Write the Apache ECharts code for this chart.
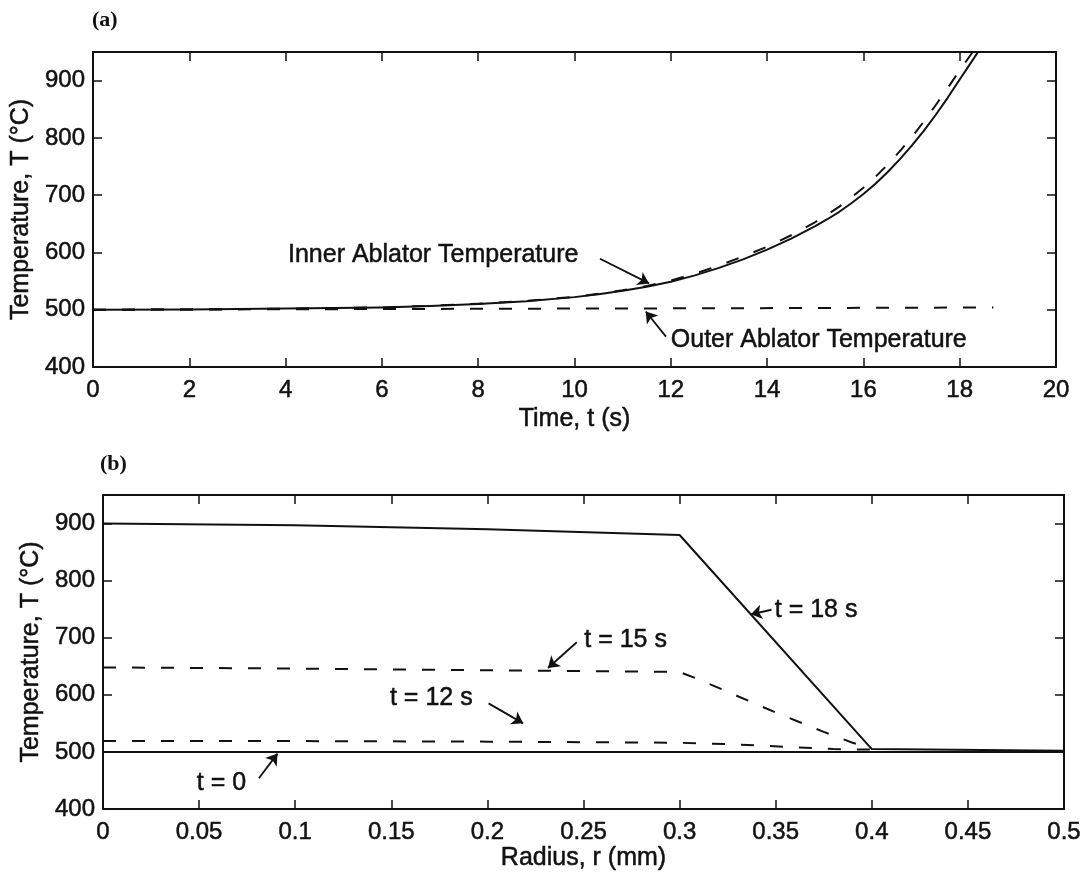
<!DOCTYPE html>
<html>
<head>
<meta charset="utf-8">
<title>Ablator temperature</title>
<script src="https://cdn.jsdelivr.net/npm/echarts@6.0.0/dist/echarts.min.js"></script>
<style>
  html, body { margin: 0; padding: 0; background: #fff; }
  #chart { width: 1090px; height: 878px; }
</style>
</head>
<body>
<div id="chart"></div>
<script>
// (a) temperature vs time
var timeInner = [0, 2, 4, 6, 7, 8, 9, 10, 10.5, 11, 11.5, 12, 12.5, 13, 13.5, 14, 14.5, 15, 15.25, 15.5, 15.75, 16, 16.25, 16.5, 16.75, 17, 17.25, 17.5, 17.75, 18, 18.2, 18.38];
var tempInner = [500, 500.5, 502, 504, 506.5, 510, 515, 522, 527, 533, 540, 549, 560, 573, 588, 605, 624, 646, 658, 671, 686, 702, 720, 740, 762, 786, 812, 840, 870, 902, 927, 950];
var timeInnerModel = [0, 2, 4, 6, 7, 8, 9, 10, 10.5, 11, 11.5, 12, 12.5, 13, 13.5, 14, 14.5, 15, 15.25, 15.5, 15.75, 16, 16.25, 16.5, 16.75, 17, 17.25, 17.5, 17.75, 18, 18.27];
var tempInnerModel = [500, 500.5, 502, 504, 507, 510.5, 515.5, 522.5, 528, 534, 541.5, 551, 563, 577, 593, 610, 630, 653, 666, 680, 696, 713, 732, 753, 776, 801, 828, 857, 887, 918, 950];
var timeOuter = [0, 5, 10, 15, 18.7];
var tempOuter = [500, 501, 502, 503, 504];

// (b) temperature profiles through the ablator
var radius18 = [0, 0.1, 0.2, 0.3, 0.4, 0.5];
var temp18 = [900, 897, 890, 880, 505, 502];
var radius15 = [0, 0.1, 0.2, 0.3, 0.31, 0.33, 0.35, 0.375, 0.39, 0.4];
var temp15 = [648, 646, 643, 640, 627, 598, 569, 535, 516, 506];
var radius12 = [0, 0.1, 0.2, 0.3, 0.33, 0.36, 0.38, 0.4];
var temp12 = [519, 519, 518, 516, 513, 508, 505, 504];
var radius0 = [0, 0.5];
var temp0 = [500, 500];

// axis ranges: [min, max, step]
var timeRange = [0, 20, 2];
var radiusRange = [0, 0.5, 0.05];
var tempRange = [400, 950, 100];

// annotations: [panel, x, y, text, arrow x0, y0, x1, y1, curveness]
var notes = [
    [0, 4.05, 595, 'Inner Ablator Temperature', 10.53, 589, 11.55, 546, 0],
    [0, 12.0, 447, 'Outer Ablator Temperature', 11.9, 453, 11.48, 497, -0.35],
    [1, 0.3495, 748, 't = 18 s', 0.3478, 749, 0.3371, 741, 0],
    [1, 0.2504, 696, 't = 15 s', 0.2465, 692, 0.2315, 647, 0],
    [1, 0.1493, 594, 't = 12 s', 0.2006, 585, 0.2186, 550, 0],
    [1, 0.0488, 445, 't = 0', 0.0811, 454, 0.0908, 497, 0]
];

var font = '"Liberation Sans", Arial, Helvetica, sans-serif';
var ink = '#111';
var textStyle = { fontFamily: font, color: ink, textBorderColor: ink, textBorderWidth: 0.5 };

function zip(xs, ys) {
    return xs.map(function (x, i) { return [x, ys[i]]; });
}

function xAxes(grid, range, name, gap) {
    var base = {
        type: 'value', gridIndex: grid,
        min: range[0], max: range[1], interval: range[2],
        axisLine: { show: true, onZero: false, lineStyle: { color: ink, width: 2 } },
        axisTick: { show: true, inside: true, length: 9, lineStyle: { color: ink, width: 1.5 } },
        splitLine: { show: false }
    };
    return [
        Object.assign({}, base, {
            position: 'bottom',
            name: name, nameLocation: 'middle', nameGap: gap,
            nameTextStyle: Object.assign({ fontSize: 25 }, textStyle),
            axisLabel: Object.assign({ fontSize: 24, margin: 11 }, textStyle)
        }),
        Object.assign({}, base, { position: 'top', axisLabel: { show: false } })
    ];
}

function yAxes(grid) {
    var base = {
        type: 'value', gridIndex: grid,
        min: tempRange[0], max: tempRange[1], interval: tempRange[2],
        axisLine: { show: true, onZero: false, lineStyle: { color: ink, width: 2 } },
        axisTick: { show: true, inside: true, length: 9, lineStyle: { color: ink, width: 1.5 } },
        splitLine: { show: false }
    };
    return [
        Object.assign({}, base, {
            position: 'left',
            name: 'Temperature, T (°C)', nameLocation: 'middle', nameGap: 52,
            nameTextStyle: Object.assign({ fontSize: 25 }, textStyle),
            axisLabel: Object.assign({ fontSize: 24, margin: 8, showMaxLabel: false }, textStyle)
        }),
        Object.assign({}, base, { position: 'right', axisLabel: { show: false } })
    ];
}

function line(grid, xs, ys, dashed) {
    return {
        type: 'line', xAxisIndex: grid * 2, yAxisIndex: grid * 2,
        data: zip(xs, ys), showSymbol: false, symbol: 'none', silent: true,
        lineStyle: { color: ink, width: 2, type: dashed ? [13, 16] : 'solid', join: 'round' },
        z: 3
    };
}

function note(n) {
    return {
        type: 'scatter', xAxisIndex: n[0] * 2, yAxisIndex: n[0] * 2,
        symbolSize: 0, silent: true,
        itemStyle: { opacity: 1 },
        data: [[n[1], n[2]]],
        label: Object.assign({
            show: true, position: 'right', distance: 0, formatter: n[3], fontSize: 25
        }, textStyle),
        markLine: {
            silent: true, animation: false,
            symbol: ['none', 'arrow'], symbolSize: 11,
            label: { show: false },
            lineStyle: { color: ink, width: 1.8, type: 'solid', curveness: n[8], opacity: 1 },
            itemStyle: { color: ink },
            data: [[{ coord: [n[4], n[5]] }, { coord: [n[6], n[7]] }]]
        }
    };
}

var myChart = echarts.init(document.getElementById('chart'));
var option = {
    animation: false,
    backgroundColor: '#fff',
    title: [
        { text: '(a)', left: 92, top: 9, padding: 0,
          textStyle: { fontFamily: '"Liberation Serif", "Times New Roman", serif', fontWeight: 'bold', fontSize: 22, color: ink } },
        { text: '(b)', left: 100, top: 453, padding: 0,
          textStyle: { fontFamily: '"Liberation Serif", "Times New Roman", serif', fontWeight: 'bold', fontSize: 22, color: ink } }
    ],
    grid: [
        { left: 93, top: 52, width: 963, height: 315 },
        { left: 103, top: 495, width: 961, height: 314 }
    ],
    xAxis: xAxes(0, timeRange, 'Time, t (s)', 40).concat(xAxes(1, radiusRange, 'Radius, r (mm)', 32)),
    yAxis: yAxes(0).concat(yAxes(1)),
    series: [
        line(0, timeInner, tempInner, false),
        line(0, timeInnerModel, tempInnerModel, true),
        line(0, timeOuter, tempOuter, true),
        line(1, radius18, temp18, false),
        line(1, radius15, temp15, true),
        line(1, radius12, temp12, true),
        line(1, radius0, temp0, false)
    ].concat(notes.map(note))
};
myChart.setOption(option);
window.addEventListener('resize', function () {
    myChart.resize();
});
</script>
</body>
</html>
